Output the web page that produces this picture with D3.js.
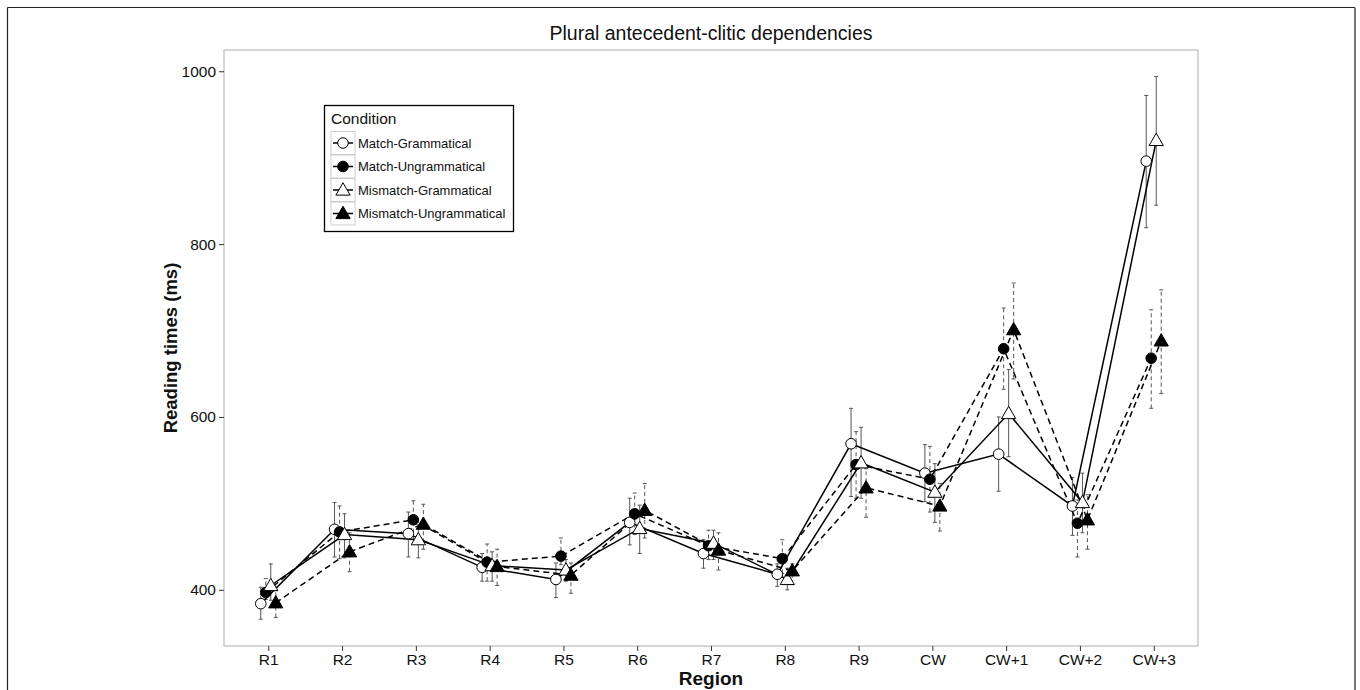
<!DOCTYPE html>
<html>
<head>
<meta charset="utf-8">
<script src="https://cdn.jsdelivr.net/npm/d3@7/dist/d3.min.js"></script>
<style>
  body { margin: 0; background: #fff; }
  svg { display: block; font-family: "Liberation Sans", Arial, Helvetica, sans-serif; }
</style>
</head>
<body>
<svg id="chart" width="1360" height="690"></svg>
<script>
const regions = ["R1","R2","R3","R4","R5","R6","R7","R8","R9","CW","CW+1","CW+2","CW+3"];
const conditions = ["Match-Grammatical","Match-Ungrammatical","Mismatch-Grammatical","Mismatch-Ungrammatical"];
const yTicks = [400, 600, 800, 1000];

const meanMG  = [384, 470, 465, 426, 412, 478, 442, 418, 569, 535, 557, 497, 896];
const lowMG   = [366, 438, 438, 410, 391, 452, 425, 404, 508, 502, 514, 463, 819];
const highMG  = [403, 501, 490, 442, 431, 506, 458, 430, 610, 568, 600, 530, 972];

const meanMU  = [397, 467, 481, 432, 439, 488, 451, 436, 545, 528, 679, 477, 668];
const lowMU   = [389, 436, 458, 410, 429, 464, 435, 419, 506, 490, 632, 438, 610];
const highMU  = [413, 497, 503, 453, 460, 512, 469, 458, 583, 566, 726, 504, 724];

const meanMMG = [405, 464, 458, 428, 423, 471, 454, 412, 547, 513, 604, 501, 920];
const lowMMG  = [388, 437, 437, 410, 410, 442, 435, 400, 506, 478, 554, 466, 845];
const highMMG = [430, 488, 475, 444, 435, 498, 469, 425, 588, 546, 655, 535, 994];

const meanMMU = [385, 444, 476, 427, 417, 492, 446, 422, 518, 497, 701, 481, 688];
const lowMMU  = [368, 421, 447, 405, 396, 460, 423, 406, 484, 468, 644, 447, 627];
const highMMU = [399, 466, 499, 447, 431, 523, 466, 430, 540, 523, 755, 510, 747];

const series = [
  {name: conditions[0], mean: meanMG,  low: lowMG,  high: highMG,  shape: "circle",   fill: "#fff", dash: null, off: -7.5},
  {name: conditions[1], mean: meanMU,  low: lowMU,  high: highMU,  shape: "circle",   fill: "#000", dash: "6,4", off: -2.5},
  {name: conditions[2], mean: meanMMG, low: lowMMG, high: highMMG, shape: "triangle", fill: "#fff", dash: null, off: 2.5},
  {name: conditions[3], mean: meanMMU, low: lowMMU, high: highMMU, shape: "triangle", fill: "#000", dash: "6,4", off: 7.5}
];

const svg = d3.select("#chart");
const W = 1360, H = 690;
const panel = {left: 224, top: 50, right: 1198, bottom: 646};

// outer frame
svg.append("line").attr("x1", 7.5).attr("x2", 1355).attr("y1", 7.5).attr("y2", 7.5).attr("stroke", "#222").attr("stroke-width", 1.2);
svg.append("line").attr("x1", 7.5).attr("x2", 7.5).attr("y1", 7.5).attr("y2", H).attr("stroke", "#222").attr("stroke-width", 1.2);
svg.append("line").attr("x1", 1355).attr("x2", 1355).attr("y1", 7.5).attr("y2", H).attr("stroke", "#777").attr("stroke-width", 2);

const x = d3.scalePoint().domain(regions).range([panel.left, panel.right]).padding(0.6);
const y = d3.scaleLinear().domain([335, 1024.6]).range([panel.bottom, panel.top]);

// panel border
svg.append("rect").attr("x", panel.left).attr("y", panel.top)
  .attr("width", panel.right - panel.left).attr("height", panel.bottom - panel.top)
  .attr("fill", "#fff").attr("stroke", "#bbb").attr("stroke-width", 1.2);

// axes
const xAxis = svg.append("g").attr("transform", `translate(0,${panel.bottom})`)
  .call(d3.axisBottom(x).tickSize(5).tickPadding(3));
xAxis.select(".domain").remove();
xAxis.selectAll("text").attr("font-size", 15.5).attr("fill", "#111");
xAxis.selectAll("line").attr("stroke", "#333");

const yAxis = svg.append("g").attr("transform", `translate(${panel.left},0)`)
  .call(d3.axisLeft(y).tickValues(yTicks).tickFormat(d3.format("d")).tickSize(5).tickPadding(3));
yAxis.select(".domain").remove();
yAxis.selectAll("text").attr("font-size", 15.5).attr("fill", "#111");
yAxis.selectAll("line").attr("stroke", "#333");

// titles
svg.append("text").attr("x", (panel.left + panel.right) / 2).attr("y", 40)
  .attr("text-anchor", "middle").attr("font-size", 19.5).attr("fill", "#111")
  .text("Plural antecedent-clitic dependencies");
svg.append("text").attr("x", (panel.left + panel.right) / 2).attr("y", 685)
  .attr("text-anchor", "middle").attr("font-size", 19).attr("font-weight", "bold").attr("fill", "#111")
  .text("Region");
svg.append("text")
  .attr("transform", `translate(177,${(panel.top + panel.bottom) / 2}) rotate(-90)`)
  .attr("text-anchor", "middle").attr("font-size", 18.5).attr("font-weight", "bold").attr("fill", "#111")
  .text("Reading times (ms)");

const plot = svg.append("g");
const xp = (s, i) => x(regions[i]) + s.off;

// error bars
series.forEach(s => {
  const g = plot.append("g");
  regions.forEach((r, i) => {
    const cx = xp(s, i);
    g.append("line").attr("x1", cx).attr("x2", cx).attr("y1", y(s.low[i])).attr("y2", y(s.high[i]))
      .attr("stroke", "#555").attr("stroke-width", 1).attr("stroke-dasharray", s.dash ? "4,3" : null);
    [s.low[i], s.high[i]].forEach(v => {
      g.append("line").attr("x1", cx - 2).attr("x2", cx + 2).attr("y1", y(v)).attr("y2", y(v))
        .attr("stroke", "#555").attr("stroke-width", 1);
    });
  });
});

// lines
const line = d3.line().x(d => d[0]).y(d => d[1]);
series.forEach(s => {
  const pts = regions.map((r, i) => [xp(s, i), y(s.mean[i])]);
  plot.append("path").attr("d", line(pts)).attr("fill", "none").attr("stroke", "#000")
    .attr("stroke-width", 1.5).attr("stroke-dasharray", s.dash);
});

// points
const triSym = d3.symbol().type(d3.symbolTriangle).size(88);
function drawShape(g, s, cx, cy) {
  if (s.shape === "circle") {
    g.append("circle").attr("cx", cx).attr("cy", cy).attr("r", 5.3)
      .attr("fill", s.fill).attr("stroke", "#000").attr("stroke-width", 1);
  } else {
    g.append("path").attr("d", triSym()).attr("transform", `translate(${cx},${cy + 1})`)
      .attr("fill", s.fill).attr("stroke", "#000").attr("stroke-width", 1);
  }
}
series.forEach(s => {
  regions.forEach((r, i) => drawShape(plot, s, xp(s, i), y(s.mean[i])));
});

// legend
const lg = svg.append("g");
lg.append("rect").attr("x", 324.5).attr("y", 105.5).attr("width", 189).attr("height", 126)
  .attr("fill", "#fff").attr("stroke", "#000").attr("stroke-width", 1.3);
lg.append("text").attr("x", 331).attr("y", 124).attr("font-size", 15.5).attr("fill", "#111").text("Condition");
series.forEach((s, i) => {
  const cy = 143 + i * 23.5;
  lg.append("rect").attr("x", 331).attr("y", cy - 11.5).attr("width", 24).attr("height", 23)
    .attr("fill", "#fff").attr("stroke", "#ccc").attr("stroke-width", 1);
  lg.append("line").attr("x1", 333).attr("x2", 353).attr("y1", cy).attr("y2", cy)
    .attr("stroke", "#000").attr("stroke-width", 1.5);
  drawShape(lg, s, 343, cy);
  lg.append("text").attr("x", 358).attr("y", cy + 4.5).attr("font-size", 13).attr("fill", "#111").text(s.name);
});
</script>
</body>
</html>
